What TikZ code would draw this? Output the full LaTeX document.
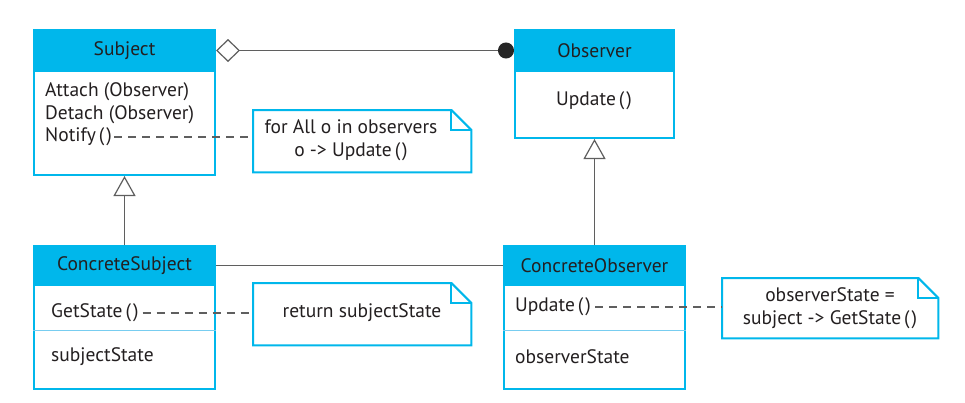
\documentclass[tikz,border=0pt]{standalone}
\usepackage{fontspec}
\setmainfont{PT Sans}
\usetikzlibrary{arrows.meta}
\definecolor{umlcyan}{RGB}{0,183,235}
\definecolor{umlsep}{RGB}{120,205,240}
\definecolor{umlline}{RGB}{95,95,95}
\definecolor{umltext}{RGB}{35,31,32}
\newcommand{\drawnote}[1]{%
  \draw[draw=umlcyan, line width=2pt, fill=white, line join=miter]
    (#1.north west) -- ([xshift=-20pt]#1.north east) -- ([yshift=-20pt]#1.north east)
    -- (#1.south east) -- (#1.south west) -- cycle;
  \draw[draw=umlcyan, line width=2pt]
    ([xshift=-20pt]#1.north east) |- ([yshift=-20pt]#1.north east);}
\newcommand{\parens}{\hspace{3pt}(\hspace{2pt})}
\begin{document}
\begin{tikzpicture}[x=1pt,y=-1pt,
  txt/.style={font=\fontsize{19.5}{23}\selectfont, text=umltext},
  classbox/.style={draw=umlcyan, line width=2pt, fill=white, inner sep=0pt, anchor=north west},
  header/.style={classbox, fill=umlcyan, txt},
  member/.style={txt, anchor=west, inner sep=0pt},
  notebox/.style={inner sep=0pt, anchor=north west},
  notetext/.style={txt, align=center, inner sep=0pt},
  sepline/.style={draw=umlsep, line width=1pt},
  conn/.style={draw=umlline, line width=1.2pt},
  dashconn/.style={conn, dash pattern=on 8pt off 6pt},
  gen/.style={conn, -{Triangle[fill=white, length=20pt, width=22pt]}},
]
\useasboundingbox (0,0) rectangle (965,402);

% Subject
\node[classbox, minimum width=181pt, minimum height=145pt] (subj) at (33,29) {};
\node[header, minimum width=181pt, minimum height=41pt] (subjH) at (33,29) {Subject};
\node[member] (attach) at (45,92) {Attach (Observer)};
\node[member] (detach) at (45,115) {Detach (Observer)};
\node[member] (notify) at (45,137) {Notify\parens};

% Observer
\node[classbox, minimum width=159pt, minimum height=108pt] (obs) at (514,29) {};
\node[header, minimum width=159pt, minimum height=41pt] (obsH) at (514,29) {Observer};
\node[txt, inner sep=0pt] (obsupd) at (594,101) {Update\parens};

% ConcreteSubject
\node[classbox, minimum width=181pt, minimum height=143pt] (cs) at (33,245) {};
\node[header, minimum width=181pt, minimum height=39pt] (csH) at (33,245) {ConcreteSubject};
\draw[sepline] ([yshift=-85pt]cs.north west) -- ([yshift=-85pt]cs.north east);
\node[member] (getstate) at (51,313) {GetState\parens};
\node[member] (sstate) at (51,357) {subjectState};

% ConcreteObserver
\node[classbox, minimum width=181pt, minimum height=143pt] (co) at (503,245) {};
\node[header, minimum width=181pt, minimum height=39pt] (coH) at (503,245) {ConcreteObserver};
\draw[sepline] ([yshift=-85pt]co.north west) -- ([yshift=-85pt]co.north east);
\node[member] (coupd) at (515,307) {Update\parens};
\node[member] (ostate) at (515,357) {observerState};

% Notes
\node[notebox, minimum width=218pt, minimum height=62pt] (n1) at (253,110) {};
\drawnote{n1}
\node[notetext] (n1t) at (351,140.5) {for All o in observers\\o -> Update\parens};

\node[notebox, minimum width=218pt, minimum height=62pt] (n2) at (253,283) {};
\drawnote{n2}
\node[notetext] (n2t) at (362,313) {return subjectState};

\node[notebox, minimum width=216pt, minimum height=60pt] (n3) at (722,278) {};
\drawnote{n3}
\node[notetext] (n3t) at (830,308.5) {observerState =\\subject -> GetState\parens};

% Connectors
\draw[dashconn] ([xshift=2pt]notify.east) -- (notify.east -| n1.west);
\draw[dashconn] ([xshift=4pt]getstate.east) -- (getstate.east -| n2.west);
\draw[dashconn] ([xshift=4pt]coupd.east) -- (coupd.east -| n3.west);

\draw[conn, {Diamond[fill=white, length=24pt, width=23pt]}-{Circle[length=16pt, fill=black!85, color=black!85]}]
  (subjH.east) -- (subjH.east -| obsH.west);
\draw[conn] (csH.east) -- (coH.west);
\draw[gen] (cs.north) -- (cs.north |- subj.south);
\draw[gen] (co.north) -- (co.north |- obs.south);
\end{tikzpicture}
\end{document}
